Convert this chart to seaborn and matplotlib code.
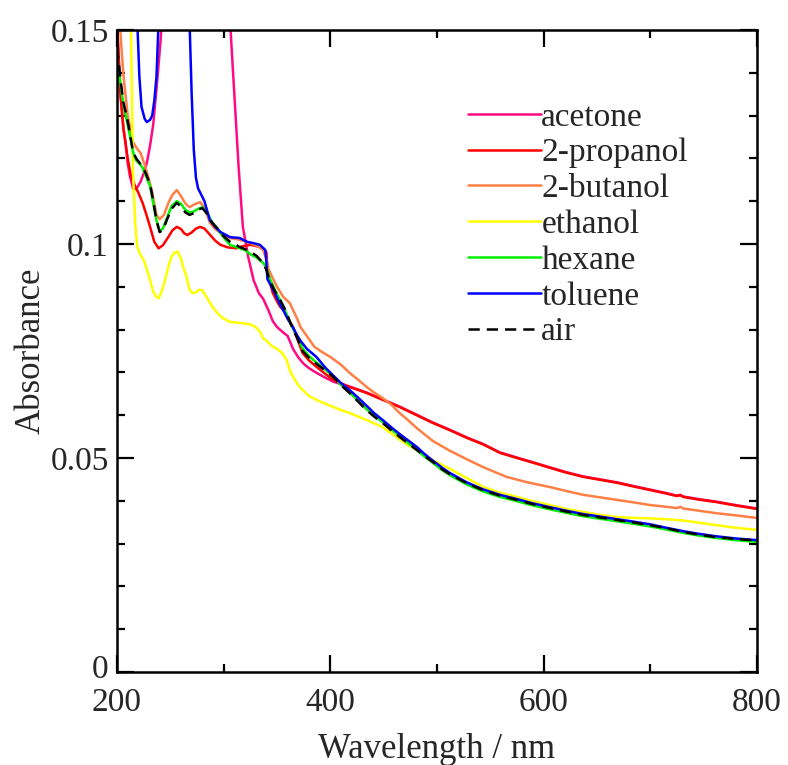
import numpy as np
import pandas as pd
import matplotlib
matplotlib.use("Agg")
import matplotlib.pyplot as plt
import matplotlib.transforms as mtransforms
import seaborn as sns
from matplotlib.ticker import MultipleLocator, FixedLocator

sns.set_style("ticks")
plt.rcParams['font.family'] = ['Liberation Serif', 'DejaVu Serif']
plt.rcParams['mathtext.fontset'] = 'stix'

# ---------------- data ----------------
acetone_wl = [200, 203, 206, 208, 210, 212, 215, 218, 222, 225, 228, 231, 234, 238, 241, 244,
              300, 306, 310, 314, 318, 323, 328, 333, 337, 342, 346, 350, 355, 360, 365, 370,
              375, 380, 387, 395, 403, 418, 434, 449, 465, 481, 496, 512, 528, 543, 559, 575,
              590, 606, 621, 637, 653, 669, 685, 700, 715, 725, 728, 731, 745, 762, 780, 800]
acetone_a = [0.152, 0.1355, 0.127, 0.1238, 0.119, 0.116, 0.113, 0.1128, 0.1145, 0.1165, 0.119,
             0.123, 0.128, 0.139, 0.148, 0.16,
             0.20, 0.152, 0.135, 0.118, 0.104, 0.097, 0.0916, 0.0885, 0.0872, 0.0845, 0.082,
             0.0806, 0.0795, 0.0785, 0.0755, 0.0735, 0.0720, 0.0710, 0.0699, 0.0688, 0.0678,
             0.0667, 0.0653, 0.0637, 0.0620, 0.0601, 0.0583, 0.0566, 0.0548, 0.0533, 0.0513,
             0.0501, 0.0490, 0.0478, 0.0467, 0.0457, 0.0450, 0.0443, 0.0434, 0.0426, 0.0418,
             0.0412, 0.0414, 0.0410, 0.0404, 0.0398, 0.0390, 0.0382]

propanol_wl = [200, 203, 206, 210, 213, 217, 220, 224, 228, 231, 235, 239, 243, 248, 252, 256,
               260, 263, 266, 270, 274, 278, 282, 287, 292, 297, 304, 312, 318, 325, 331, 337,
               340, 341, 343, 346, 350, 353, 356, 360, 365, 370, 374, 380, 387, 395, 403, 418,
               434, 449, 465, 481, 496, 512, 528, 543, 559, 575, 590, 606, 621, 637, 653, 669,
               685, 700, 715, 725, 728, 731, 745, 762, 780, 800]
propanol_a = [0.152, 0.136, 0.127, 0.120, 0.116, 0.1135, 0.112, 0.1096, 0.1065, 0.104, 0.1005,
              0.0990, 0.0997, 0.1016, 0.1032, 0.1040, 0.1035, 0.1025, 0.1021, 0.1027, 0.1036,
              0.1040, 0.1036, 0.1022, 0.1008, 0.0998, 0.0992, 0.0990, 0.0995, 0.0998, 0.0995,
              0.0990, 0.0981, 0.0945, 0.0915, 0.0886, 0.0866, 0.0853, 0.0846, 0.0828, 0.0806,
              0.0772, 0.0745, 0.0728, 0.0713, 0.0697, 0.0682, 0.0666, 0.0652, 0.0636, 0.0619,
              0.0600, 0.0582, 0.0565, 0.0547, 0.0532, 0.0512, 0.0500, 0.0489, 0.0477, 0.0466,
              0.0456, 0.0449, 0.0442, 0.0433, 0.0425, 0.0417, 0.0411, 0.0413, 0.0409, 0.0403,
              0.0397, 0.0389, 0.0381]

butanol_wl = [200, 203, 206, 210, 215, 219, 222, 226, 230, 233, 237, 240, 244, 248, 252, 256,
              260, 264, 268, 272, 278, 282, 287, 292, 297, 306, 315, 325, 332, 337, 340, 342,
              346, 350, 356, 362, 369, 372, 378, 385, 392, 400, 410, 418, 426, 434, 441, 449,
              457, 465, 473, 481, 496, 512, 528, 543, 565, 585, 606, 621, 637, 653, 669, 685,
              700, 715, 725, 728, 731, 745, 762, 780, 800]
butanol_a = [0.17, 0.150, 0.1395, 0.130, 0.1238, 0.1222, 0.1213, 0.1185, 0.115, 0.1121, 0.1068,
             0.1058, 0.1068, 0.1095, 0.1115, 0.1126, 0.1112, 0.1095, 0.1086, 0.1092, 0.1098,
             0.1085, 0.1050, 0.1035, 0.1026, 0.1014, 0.1010, 0.1002, 0.0995, 0.0986, 0.0965,
             0.0942, 0.0920, 0.0900, 0.0876, 0.0862, 0.0825, 0.0806, 0.0785, 0.0760, 0.0748,
             0.0736, 0.0718, 0.0699, 0.0683, 0.0666, 0.0653, 0.0640, 0.0625, 0.0605, 0.0588,
             0.0570, 0.0540, 0.0517, 0.0497, 0.0479, 0.0456, 0.0443, 0.0432, 0.0423, 0.0414,
             0.0408, 0.0402, 0.0396, 0.0390, 0.0386, 0.0383, 0.0386, 0.0382, 0.0377, 0.0371,
             0.0366, 0.0360]

ethanol_wl = [210, 213, 215, 217, 219, 222, 225, 228, 231, 234, 237, 239, 242, 245, 248, 251,
              254, 257, 260, 262, 265, 268, 271, 274, 277, 280, 284, 289, 294, 299, 306, 312,
              318, 325, 330, 334, 337, 340, 346, 350, 355, 359, 362, 365, 370, 374, 380, 387,
              395, 403, 410, 418, 426, 434, 441, 449, 457, 465, 473, 481, 496, 512, 528, 543,
              559, 575, 590, 606, 621, 637, 653, 669, 685, 700, 715, 731, 745, 762, 780, 800]
ethanol_a = [0.20, 0.152, 0.117, 0.1050, 0.0993, 0.0975, 0.0963, 0.0940, 0.0916, 0.0888, 0.0876,
             0.0873, 0.0890, 0.0916, 0.0945, 0.0970, 0.0980, 0.0982, 0.0965, 0.0946, 0.0925,
             0.0893, 0.0885, 0.0887, 0.0893, 0.0892, 0.0876, 0.0855, 0.0839, 0.0827, 0.0818,
             0.0816, 0.0815, 0.0812, 0.0806, 0.0795, 0.0780, 0.0774, 0.0760, 0.0755, 0.0745,
             0.0729, 0.0705, 0.0690, 0.0670, 0.0659, 0.0645, 0.0636, 0.0627, 0.0619, 0.0612,
             0.0605, 0.0597, 0.0589, 0.0581, 0.0572, 0.0558, 0.0543, 0.0530, 0.0518, 0.0495,
             0.0475, 0.0453, 0.0433, 0.0419, 0.0409, 0.0399, 0.0390, 0.0381, 0.0374, 0.0367,
             0.0362, 0.0360, 0.0359, 0.0357, 0.0354, 0.0349, 0.0343, 0.0337, 0.0332]

common_wl = [200, 203, 206, 209, 212, 215, 218, 221, 224, 227, 231, 234, 237, 240, 243, 247,
             251, 256, 260, 264, 268, 272, 276, 280, 284, 289, 294, 300, 306, 315, 320, 325,
             331, 337, 340, 343, 348, 353, 357, 360, 365, 369, 374, 380, 387, 395, 403, 410,
             418, 426, 434, 441, 449, 457, 465, 473, 481, 488, 496, 504, 512, 528, 543, 559,
             575, 590, 606, 621, 637, 653, 669, 685, 700, 715, 731, 745, 762, 780, 800]
hexane_a = [0.143, 0.138, 0.1325, 0.129, 0.1255, 0.1215, 0.1195, 0.1188, 0.1178, 0.116, 0.1135,
            0.1095, 0.1055, 0.1030, 0.1036, 0.1062, 0.1088, 0.1100, 0.1094, 0.1080, 0.1074,
            0.1076, 0.1082, 0.1086, 0.1075, 0.1052, 0.1036, 0.1015, 0.0998, 0.0990, 0.0986,
            0.0976, 0.0968, 0.0956, 0.0945, 0.0920, 0.0893, 0.0868, 0.0848, 0.0830, 0.0802,
            0.0783, 0.0756, 0.0738, 0.0723, 0.0707, 0.0690, 0.0671, 0.0653, 0.0634, 0.0614,
            0.0599, 0.0584, 0.0567, 0.0551, 0.0535, 0.0519, 0.0504, 0.0489, 0.0473, 0.0460,
            0.0438, 0.0422, 0.0409, 0.0399, 0.0389, 0.0380, 0.0372, 0.0364, 0.0358, 0.0352,
            0.0346, 0.0340, 0.0333, 0.0325, 0.0319, 0.0313, 0.0308, 0.0304]
air_a = [0.146, 0.139, 0.133, 0.130, 0.126, 0.1215, 0.120, 0.119, 0.118, 0.1165, 0.114, 0.110,
         0.1055, 0.1028, 0.1032, 0.1058, 0.1082, 0.1096, 0.1088, 0.1074, 0.1068, 0.1072, 0.1080,
         0.1084, 0.1072, 0.1050, 0.1037, 0.1018, 0.1005, 0.0993, 0.0988, 0.0982, 0.0972, 0.0955,
         0.0940, 0.0915, 0.0890, 0.0869, 0.0850, 0.0832, 0.0800, 0.0780, 0.0750, 0.0734, 0.0720,
         0.0705, 0.0689, 0.0670, 0.0652, 0.0632, 0.0612, 0.0597, 0.0582, 0.0565, 0.0549, 0.0534,
         0.0519, 0.0505, 0.0491, 0.0475, 0.0462, 0.0441, 0.0425, 0.0412, 0.0402, 0.0392, 0.0383,
         0.0375, 0.0367, 0.0361, 0.0355, 0.0349, 0.0343, 0.0336, 0.0327, 0.0321, 0.0315, 0.0311,
         0.0307]

toluene_wl = [215, 219, 221, 223, 226, 228, 231, 233, 235, 237, 239, 242, 265, 268, 270, 272,
              274, 276, 279, 282, 287, 292, 297, 306, 315, 322, 328, 334, 339, 340, 341, 345,
              349, 353, 357, 360, 365, 369, 372, 378, 387, 395, 403, 410, 418, 426, 434, 441,
              449, 457, 465, 473, 481, 488, 496, 505, 512, 528, 543, 559, 575, 590, 606, 621,
              637, 653, 669, 685, 700, 715, 731, 745, 762, 780, 800]
toluene_a = [0.20, 0.152, 0.139, 0.132, 0.1292, 0.1285, 0.1290, 0.1300, 0.1335, 0.139, 0.152,
             0.20, 0.20, 0.152, 0.135, 0.122, 0.1155, 0.1130, 0.1115, 0.1100, 0.1056, 0.1040,
             0.1028, 0.1016, 0.1014, 0.1005, 0.1002, 0.0998, 0.0986, 0.0960, 0.0918, 0.0900,
             0.0880, 0.0858, 0.0840, 0.0825, 0.0805, 0.0786, 0.0774, 0.0755, 0.0736, 0.0712,
             0.0692, 0.0675, 0.0659, 0.0641, 0.0622, 0.0605, 0.0589, 0.0572, 0.0556, 0.0541,
             0.0526, 0.0510, 0.0494, 0.0477, 0.0465, 0.0443, 0.0427, 0.0414, 0.0404, 0.0394,
             0.0385, 0.0377, 0.0369, 0.0363, 0.0357, 0.0351, 0.0345, 0.0337, 0.0329, 0.0323,
             0.0317, 0.0312, 0.0308]

series = [
    ("acetone", acetone_wl, acetone_a, "#ff0a84", "-"),
    ("2-propanol", propanol_wl, propanol_a, "#ff0000", "-"),
    ("2-butanol", butanol_wl, butanol_a, "#ff7f45", "-"),
    ("ethanol", ethanol_wl, ethanol_a, "#ffff00", "-"),
    ("hexane", common_wl, hexane_a, "#00f000", "-"),
    ("toluene", toluene_wl, toluene_a, "#0000ff", "-"),
    ("air", common_wl, air_a, "#000000", (0, (4.5, 2.8))),
]

x_ticks = [200, 400, 600, 800]
y_ticks = [0, 0.05, 0.1, 0.15]
y_tick_labels = ["0", "0.05", "0.1", "0.15"]

# ---------------- figure ----------------
fig = plt.figure(figsize=(7.88, 7.65), dpi=100)
ax = fig.add_axes([117 / 788, 1 - 672 / 765, 640 / 788, 642 / 765])

for name, wl, a, col, ls in series:
    df = pd.DataFrame({"wl": wl, "A": a})
    sns.lineplot(data=df, x="wl", y="A", ax=ax, color=col, linewidth=1.8,
                 linestyle=ls, label=name, sort=False, estimator=None)

ax.set_xlim(200, 800)
ax.set_ylim(0, 0.15)
ax.xaxis.set_major_locator(FixedLocator(x_ticks))
ax.xaxis.set_minor_locator(MultipleLocator(100))
ax.yaxis.set_major_locator(FixedLocator(y_ticks))
ax.yaxis.set_minor_locator(MultipleLocator(0.01))
ax.set_yticklabels(y_tick_labels)
ax.set_xticklabels([str(t) for t in x_ticks])

ax.tick_params(which="both", direction="in", top=True, right=True, width=1.6,
               labelsize=24, color="black")
ax.tick_params(which="major", length=12)
ax.tick_params(which="minor", length=6)
ax.tick_params(axis="y", pad=6)
ax.tick_params(axis="x", pad=11)
for s in ax.spines.values():
    s.set_linewidth(1.8)
    s.set_color("black")

# nudge the "0" label up a little so it does not collide with "200"
zero_lbl = ax.yaxis.get_major_ticks()[0].label1
zero_lbl.set_transform(zero_lbl.get_transform() +
                       mtransforms.ScaledTranslation(0, 4 / 72, fig.dpi_scale_trans))

ax.set_xlabel("Wavelength / nm", fontsize=25, labelpad=11)
ax.set_ylabel("Absorbance", fontsize=25, labelpad=2)

leg = ax.legend(loc="upper left", bbox_to_anchor=((468 - 117) / 640, (672 - 102) / 642),
                frameon=False, fontsize=24, handlelength=2.2, handletextpad=0.0,
                labelspacing=0.16, borderpad=0, borderaxespad=0)
for h in leg.get_lines():
    h.set_linewidth(1.8)

fig.savefig("out.png", dpi=100, facecolor="white")
